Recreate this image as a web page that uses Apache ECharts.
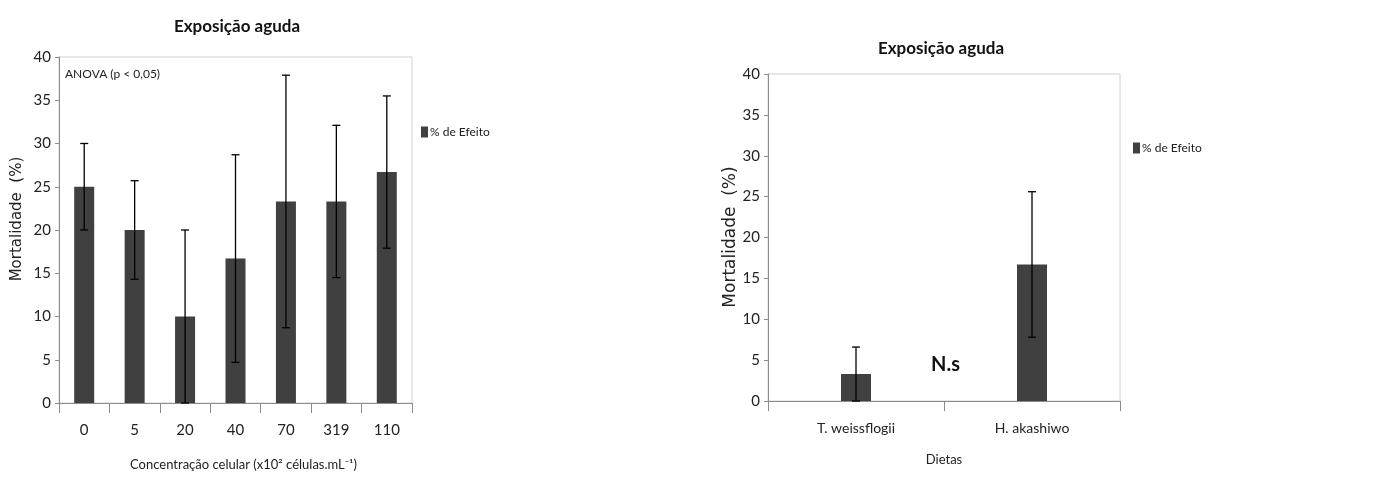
<!DOCTYPE html>
<html>
<head>
<meta charset="utf-8">
<script src="https://cdn.jsdelivr.net/npm/echarts@6/dist/echarts.min.js"></script>
<style>
  html, body { margin: 0; padding: 0; background: #fff; }
  #chart { width: 1373px; height: 477px; }
</style>
</head>
<body>
<div id="chart"></div>
<script>
// left panel: mortality by cell concentration
const concLabels = ['0', '5', '20', '40', '70', '319', '110'];
const concMeans = [25, 20, 10, 16.7, 23.3, 23.3, 26.7];
const concErrors = [5, 5.7, 10, 12, 14.6, 8.8, 8.8];

// right panel: mortality by diet
const dietLabels = ['T. weissflogii', 'H. akashiwo'];
const dietMeans = [3.3, 16.7];
const dietErrors = [3.3, 8.9];

const FONT = 'Lato';
const BAR = '#404040';
const AXIS = '#8c8c8c';

const chart = echarts.init(document.getElementById('chart'));

// error bar with caps, drawn through the axis coords
function errorBar(params, api) {
  const i = api.value(0);
  const m = api.value(1);
  const e = api.value(2);
  const top = api.coord([i, m + e]);
  const bot = api.coord([i, Math.max(0, m - e)]);
  const half = 4;
  const style = { stroke: '#000', lineWidth: 1.3 };
  return {
    type: 'group',
    children: [
      { type: 'line', shape: { x1: top[0], y1: top[1], x2: bot[0], y2: bot[1] }, style },
      { type: 'line', shape: { x1: top[0] - half, y1: top[1], x2: top[0] + half, y2: top[1] }, style },
      { type: 'line', shape: { x1: bot[0] - half, y1: bot[1], x2: bot[0] + half, y2: bot[1] }, style },
    ],
  };
}

function yAxisCfg(gridIndex) {
  return {
    type: 'value',
    gridIndex,
    min: 0,
    max: 40,
    interval: 5,
    axisLine: { show: true, lineStyle: { color: AXIS } },
    axisTick: { show: true, length: 4, lineStyle: { color: AXIS } },
    axisLabel: { fontFamily: FONT, fontSize: 15, color: '#222', margin: 8 },
    splitLine: { show: false },
  };
}

function xAxisCfg(gridIndex, data, name, nameGap, labelSize, namePad) {
  return {
    type: 'category',
    gridIndex,
    data,
    name,
    nameLocation: 'middle',
    nameGap,
    nameTextStyle: { fontFamily: FONT, fontSize: 13, color: '#222', padding: namePad },
    axisLine: { lineStyle: { color: AXIS } },
    axisTick: { show: true, length: 10, lineStyle: { color: AXIS } },
    axisLabel: { fontFamily: FONT, fontSize: labelSize, color: '#222', margin: 20 },
  };
}

function legendCfg(name, left, top) {
  return {
    data: [name],
    left, top,
    itemWidth: 7, itemHeight: 11, itemGap: 2,
    selectedMode: false,
    icon: 'rect',
    textStyle: { fontFamily: FONT, fontSize: 12, color: '#222', padding: [0, 0, 0, -3] },
  };
}

const option = {
  animation: false,
  backgroundColor: '#fff',
  title: [
    {
      text: 'Exposição aguda',
      left: 232, top: 13, textAlign: 'center',
      textStyle: { fontFamily: FONT, fontSize: 17, fontWeight: 'bold', color: '#111' },
    },
    {
      text: 'Exposição aguda',
      left: 936, top: 35, textAlign: 'center',
      textStyle: { fontFamily: FONT, fontSize: 17, fontWeight: 'bold', color: '#111' },
    },
  ],
  legend: [
    legendCfg('% de Efeito', 416, 121),
    legendCfg('% de Efeito ', 1128, 137),
  ],
  grid: [
    { left: 59, top: 57, width: 353, height: 346, show: true, borderColor: '#d0d0d0', borderWidth: 1 },
    { left: 768, top: 74, width: 352, height: 327, show: true, borderColor: '#d0d0d0', borderWidth: 1 },
  ],
  xAxis: [
    xAxisCfg(0, concLabels, 'Concentração celular (x10² células.mL⁻¹)', 55, 15, [0, 0, 0, 16]),
    xAxisCfg(1, dietLabels, 'Dietas', 52, 14, 0),
  ],
  yAxis: [yAxisCfg(0), yAxisCfg(1)],
  graphic: [
    {
      type: 'text', x: 17, y: 219, rotation: Math.PI / 2,
      style: { text: 'Mortalidade  (%)', font: '15px "DejaVu Sans"', fill: '#222', align: 'center', verticalAlign: 'middle' },
    },
    {
      type: 'text', x: 731, y: 237, rotation: Math.PI / 2,
      style: { text: 'Mortalidade  (%)', font: '17px "DejaVu Sans"', fill: '#222', align: 'center', verticalAlign: 'middle' },
    },
    {
      type: 'text', left: 65, top: 68,
      style: { text: 'ANOVA (p < 0,05)', font: '12px Lato', fill: '#222' },
    },
    {
      type: 'text', left: 931, top: 355,
      style: { text: 'N.s', font: 'bold 20px Lato', fill: '#111' },
    },
  ],
  series: [
    {
      name: '% de Efeito',
      type: 'bar',
      xAxisIndex: 0, yAxisIndex: 0,
      data: concMeans,
      barWidth: 20,
      itemStyle: { color: BAR },
    },
    {
      type: 'custom',
      xAxisIndex: 0, yAxisIndex: 0,
      renderItem: errorBar,
      data: concMeans.map((m, i) => [i, m, concErrors[i]]),
      z: 5,
    },
    {
      name: '% de Efeito ',
      type: 'bar',
      xAxisIndex: 1, yAxisIndex: 1,
      data: dietMeans,
      barWidth: 30,
      itemStyle: { color: BAR },
    },
    {
      type: 'custom',
      xAxisIndex: 1, yAxisIndex: 1,
      renderItem: errorBar,
      data: dietMeans.map((m, i) => [i, m, dietErrors[i]]),
      z: 5,
    },
  ],
};

chart.setOption(option);
</script>
</body>
</html>
